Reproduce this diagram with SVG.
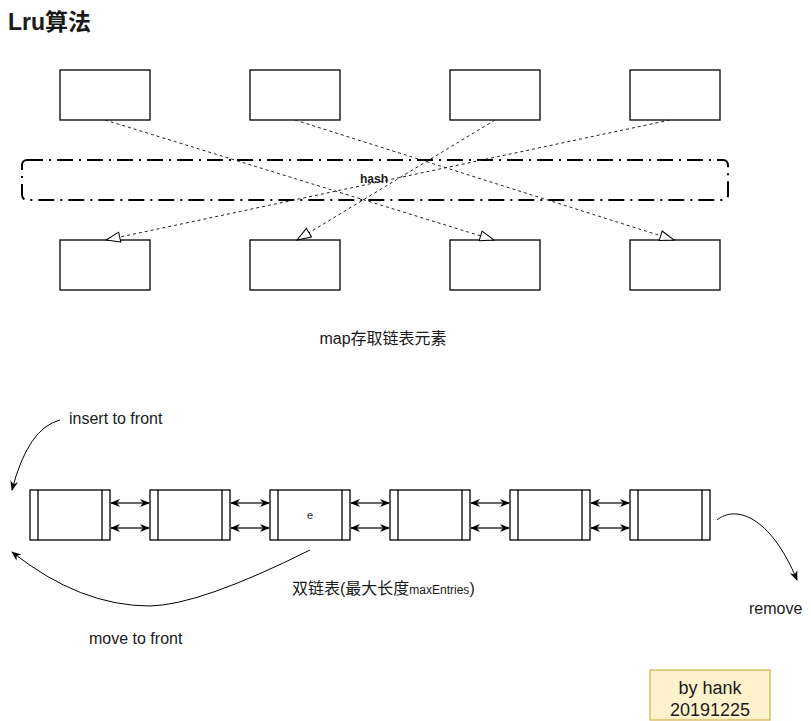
<svg xmlns="http://www.w3.org/2000/svg" width="811" height="721" viewBox="0 0 811 721">
<style>
.box{fill:#fff;stroke:#000;stroke-width:1.3}
.t{font-family:"Liberation Sans","Noto Sans CJK SC",sans-serif;fill:#1a1a1a}
.dash{fill:none;stroke:#222;stroke-width:1;stroke-dasharray:3 3}
.link{fill:none;stroke:#666;stroke-width:2}
.curve{fill:none;stroke:#000;stroke-width:1}
.inner{stroke:#000;stroke-width:1.3}
</style>
<defs>
<marker id="open" viewBox="0 0 16 12" refX="15" refY="6" markerWidth="16" markerHeight="12" markerUnits="userSpaceOnUse" orient="auto">
<path d="M1,1 L15,6 L1,11 Z" fill="#fff" stroke="#000" stroke-width="1"/>
</marker>
<marker id="cls" viewBox="0 0 10 10" refX="9" refY="5" markerWidth="10" markerHeight="10" markerUnits="userSpaceOnUse" orient="auto-start-reverse">
<path d="M0,1 L10,5 L0,9 L3,5 Z" fill="#000"/>
</marker>
</defs>
<rect width="811" height="721" fill="#fff"/>
<text class="t" x="8" y="30" font-size="23" font-weight="bold" fill="#000">Lru算法</text>

<g id="hash-zone">
<rect x="22" y="160" width="706" height="40" rx="5" fill="none" stroke="#000" stroke-width="2" stroke-dasharray="16 6 2 6"/>
</g>

<g id="k1"><rect class="box" x="60" y="70" width="90" height="50"/></g>
<g id="k2"><rect class="box" x="250" y="70" width="90" height="50"/></g>
<g id="k3"><rect class="box" x="450" y="70" width="90" height="50"/></g>
<g id="k4"><rect class="box" x="630" y="70" width="90" height="50"/></g>
<g id="v1"><rect class="box" x="60" y="240" width="90" height="50"/></g>
<g id="v2"><rect class="box" x="250" y="240" width="90" height="50"/></g>
<g id="v3"><rect class="box" x="450" y="240" width="90" height="50"/></g>
<g id="v4"><rect class="box" x="630" y="240" width="90" height="50"/></g>

<g id="connectors">
<line class="dash" x1="105" y1="120" x2="494" y2="240" marker-end="url(#open)"/>
<line class="dash" x1="295" y1="120" x2="674" y2="240" marker-end="url(#open)"/>
<line class="dash" x1="495" y1="120" x2="297" y2="240" marker-end="url(#open)"/>
<line class="dash" x1="670" y1="120" x2="106" y2="240" marker-end="url(#open)"/>

<line class="link" x1="111" y1="503" x2="149" y2="503" marker-start="url(#cls)" marker-end="url(#cls)"/>
<line class="link" x1="111" y1="528" x2="149" y2="528" marker-start="url(#cls)" marker-end="url(#cls)"/>
<line class="link" x1="231" y1="503" x2="269" y2="503" marker-start="url(#cls)" marker-end="url(#cls)"/>
<line class="link" x1="231" y1="528" x2="269" y2="528" marker-start="url(#cls)" marker-end="url(#cls)"/>
<line class="link" x1="351" y1="503" x2="389" y2="503" marker-start="url(#cls)" marker-end="url(#cls)"/>
<line class="link" x1="351" y1="528" x2="389" y2="528" marker-start="url(#cls)" marker-end="url(#cls)"/>
<line class="link" x1="471" y1="503" x2="509" y2="503" marker-start="url(#cls)" marker-end="url(#cls)"/>
<line class="link" x1="471" y1="528" x2="509" y2="528" marker-start="url(#cls)" marker-end="url(#cls)"/>
<line class="link" x1="591" y1="503" x2="629" y2="503" marker-start="url(#cls)" marker-end="url(#cls)"/>
<line class="link" x1="591" y1="528" x2="629" y2="528" marker-start="url(#cls)" marker-end="url(#cls)"/>

<path class="curve" d="M60,420 Q28,428 12,490" marker-end="url(#cls)"/>
<path class="curve" d="M310,550 Q200,605 150,606 Q80,606 12,552" marker-end="url(#cls)"/>
<path class="curve" d="M717,520 C735,505 770,515 797,580" marker-end="url(#cls)"/>
</g>

<text class="t" x="374" y="183" font-size="12" font-weight="bold" text-anchor="middle">hash</text>
<text class="t" x="383" y="344" font-size="16" text-anchor="middle">map存取链表元素</text>

<g id="n1"><rect class="box" x="30" y="490" width="80" height="50"/><line class="inner" x1="38" y1="490" x2="38" y2="540"/><line class="inner" x1="102" y1="490" x2="102" y2="540"/></g>
<g id="n2"><rect class="box" x="150" y="490" width="80" height="50"/><line class="inner" x1="158" y1="490" x2="158" y2="540"/><line class="inner" x1="222" y1="490" x2="222" y2="540"/></g>
<g id="n3"><rect class="box" x="270" y="490" width="80" height="50"/><line class="inner" x1="278" y1="490" x2="278" y2="540"/><line class="inner" x1="342" y1="490" x2="342" y2="540"/><text class="t" x="310" y="519" font-size="11" text-anchor="middle">e</text></g>
<g id="n4"><rect class="box" x="390" y="490" width="80" height="50"/><line class="inner" x1="398" y1="490" x2="398" y2="540"/><line class="inner" x1="462" y1="490" x2="462" y2="540"/></g>
<g id="n5"><rect class="box" x="510" y="490" width="80" height="50"/><line class="inner" x1="518" y1="490" x2="518" y2="540"/><line class="inner" x1="582" y1="490" x2="582" y2="540"/></g>
<g id="n6"><rect class="box" x="630" y="490" width="80" height="50"/><line class="inner" x1="638" y1="490" x2="638" y2="540"/><line class="inner" x1="702" y1="490" x2="702" y2="540"/></g>

<text class="t" x="69" y="424" font-size="16">insert to front</text>
<text class="t" x="89" y="644" font-size="16">move to front</text>
<text class="t" x="749" y="614" font-size="16">remove</text>
<text class="t" x="292" y="594" font-size="16">双链表(最大长度<tspan font-size="12">maxEntries</tspan>)</text>

<g id="sig">
<rect x="650" y="670" width="120" height="50" fill="#fff2cc" stroke="#d6b656" stroke-width="1.3"/>
<text class="t" x="710" y="694" font-size="18" text-anchor="middle">by hank</text>
<text class="t" x="710" y="716" font-size="18" text-anchor="middle">20191225</text>
</g>
</svg>
